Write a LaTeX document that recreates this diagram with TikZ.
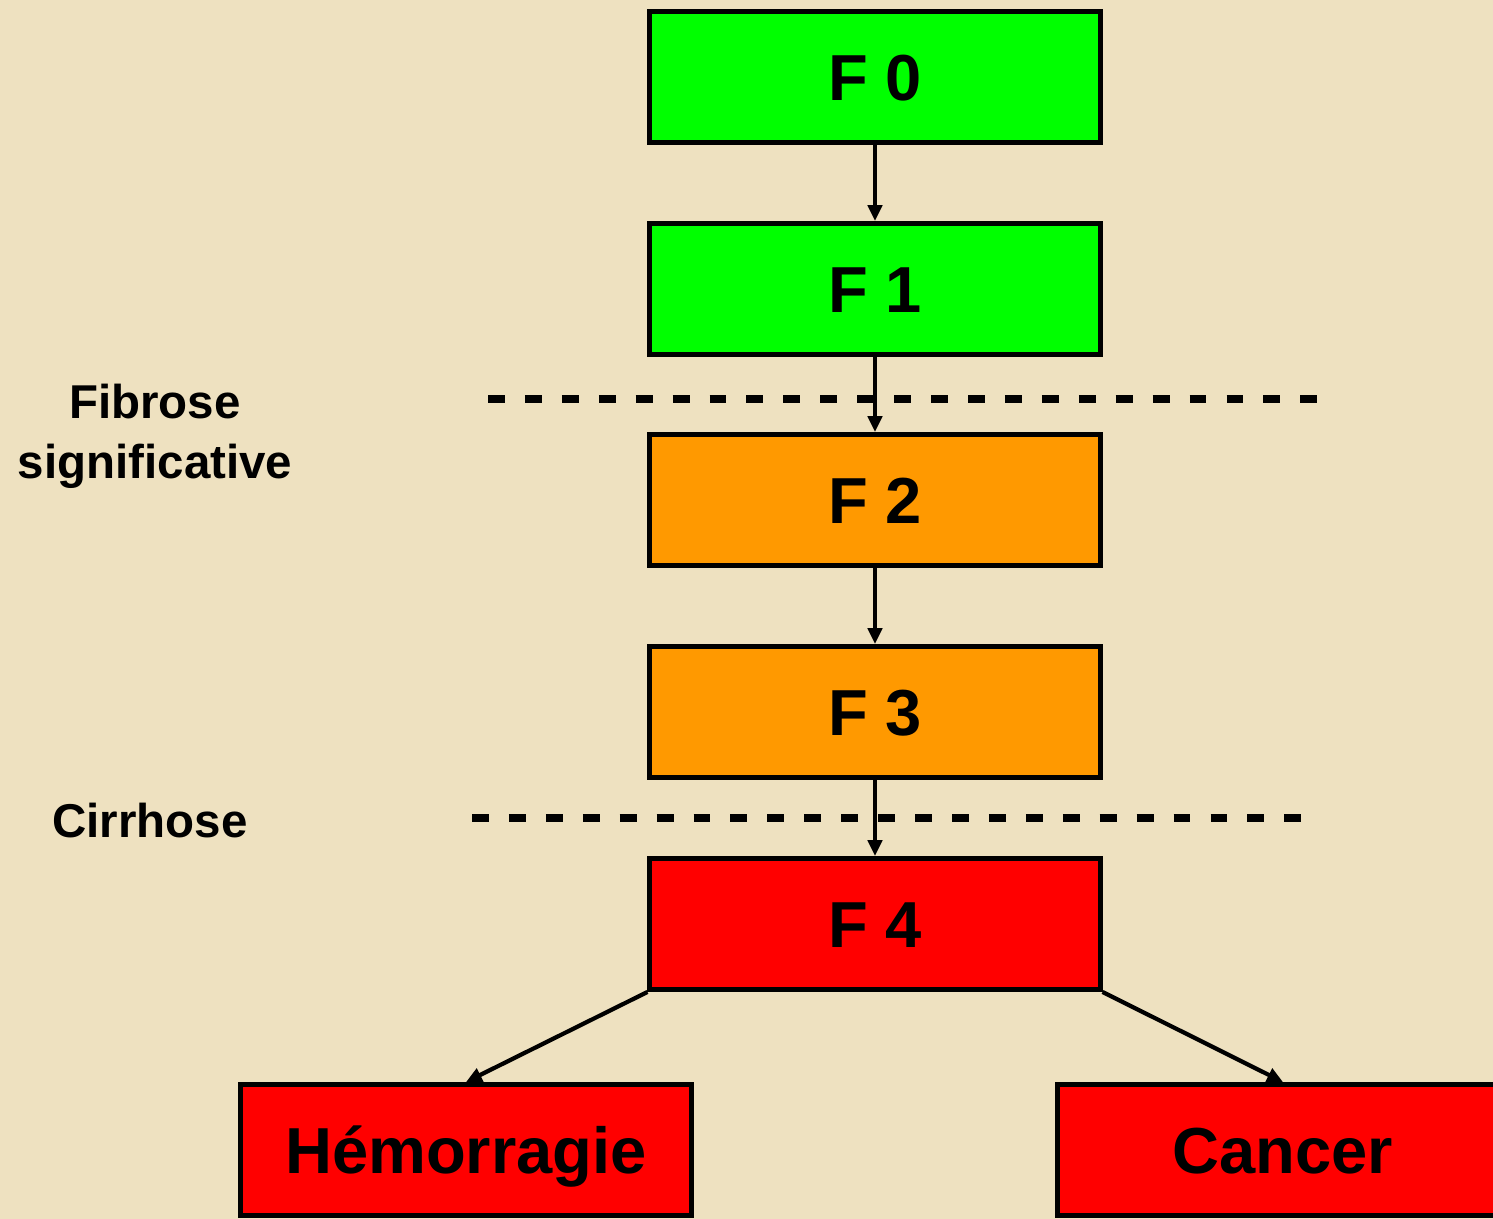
\documentclass[tikz,border=0pt]{standalone}
\usepackage{fontspec}
\setmainfont{Liberation Sans}
\usepackage{tikz}
\usetikzlibrary{positioning, arrows.meta}

\definecolor{parchment}{RGB}{238,225,192}
\definecolor{stagegreen}{RGB}{0,255,0}
\definecolor{stageorange}{RGB}{255,153,0}
\definecolor{stagered}{RGB}{255,0,0}

\begin{document}
\begin{tikzpicture}[
    x=0.01cm, y=-0.01cm,
    stagebox/.style={rectangle, draw=black, line width=1.4pt, minimum width=4.5cm, minimum height=1.31cm, inner sep=0pt, text height=13.2pt, text depth=0pt, font=\fontsize{18.5}{22}\selectfont\bfseries},
    arrow/.style={-{Triangle[length=4.5pt, width=4pt]}, line width=1.2pt},
    cutline/.style={line width=2.5pt, dash pattern=on 4.8pt off 5.7pt},
    label/.style={font=\fontsize{13.5}{17}\selectfont\bfseries, align=center}
]

    % Background
    \useasboundingbox (0,0) rectangle (1493,1219);
    \clip (0,0) rectangle (1493,1219);
    \fill[parchment] (0,0) rectangle (1493,1219);

    % === Stages ===
    \node[stagebox, fill=stagegreen] (f0) at (875, 77) {F 0};
    \node[stagebox, fill=stagegreen] (f1) at (875, 289) {F 1};
    \node[stagebox, fill=stageorange] (f2) at (875, 500) {F 2};
    \node[stagebox, fill=stageorange] (f3) at (875, 712) {F 3};
    \node[stagebox, fill=stagered] (f4) at (875, 924) {F 4};

    % === Complications ===
    \node[stagebox, fill=stagered] (hem) at (466, 1150) {Hémorragie};
    \node[stagebox, fill=stagered] (cancer) at (1283, 1150) {Cancer};

    % Side labels
    \node[label] (signif) at (155, 436) {Fibrose\\significative};
    \node[label] (cirrh) at (150, 821) {Cirrhose};

    % Arrows
    \draw[arrow] (f0) -- (f1);
    \draw[arrow] (f1) -- (f2);
    \draw[arrow] (f2) -- (f3);
    \draw[arrow] (f3) -- (f4);
    \draw[arrow] (f4.south west) -- (hem.north);
    \draw[arrow] (f4.south east) -- (cancer.north);

    % Thresholds
    \draw[cutline] (488, 399) -- (1325, 399);
    \draw[cutline] (472, 818) -- (1310, 818);

\end{tikzpicture}
\end{document}
